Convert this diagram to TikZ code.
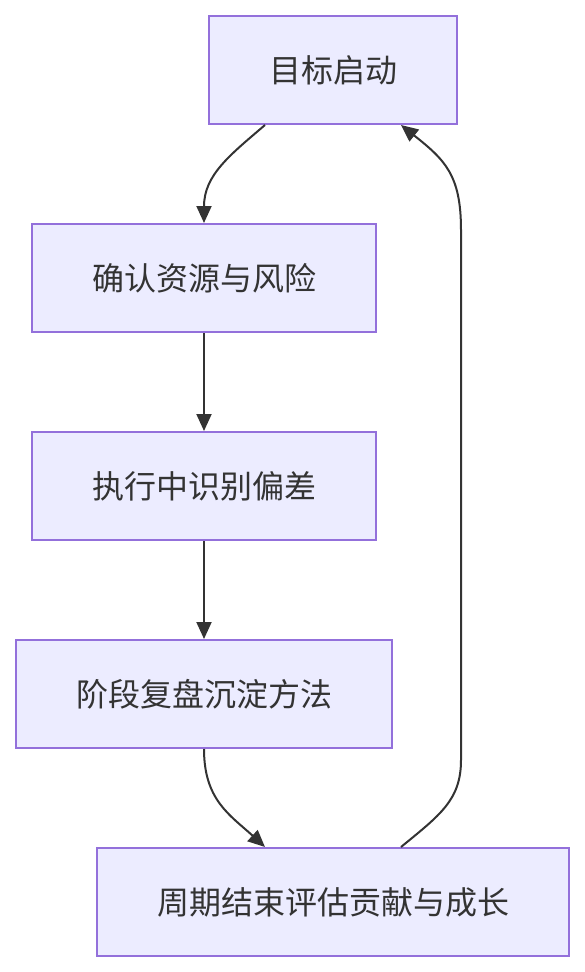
\documentclass[tikz,border=0pt]{standalone}
\usepackage{fontspec}
\setmainfont{Noto Sans CJK SC}
\usetikzlibrary{arrows.meta, positioning, calc}
\definecolor{fillBOX}{HTML}{ECECFF}
\definecolor{bBOX}   {HTML}{9370DB}
\definecolor{txtDARK}{HTML}{333333}

\begin{document}
\begin{tikzpicture}[
    x=1pt, y=-1pt,
    every node/.style={font=\fontsize{32}{38}\selectfont, text=txtDARK},
    wf/.style={
        draw=bBOX, fill=fillBOX, line width=2pt,
        minimum height=108pt, inner sep=0pt,
        align=center
    },
    arrow/.style={-{Triangle[length=17pt,width=15pt]}, line width=2pt, draw=txtDARK}
]

% ── CANVAS ─────────────────────────────────────────────────────
\useasboundingbox (0,0) rectangle (585,972);

% === MAIN COLUMN ===
\node[wf, minimum width=248pt]
    (start) at (333, 70)
    {目标启动};

\node[wf, minimum width=344pt]
    (risk) at (204, 278)
    {确认资源与风险};

\node[wf, minimum width=344pt]
    (deviate) at (204, 486)
    {执行中识别偏差};

\node[wf, minimum width=376pt]
    (review) at (204, 694)
    {阶段复盘沉淀方法};

\node[wf, minimum width=472pt]
    (assess) at (333, 902)
    {周期结束评估贡献与成长};

% ── ARROWS ─────────────────────────────────────────────────────

% Start → Risk
\draw[arrow] ([xshift=-68pt]start.south)
    .. controls (230, 155) and (204, 175) .. (risk.north);

% Straight steps
\draw[arrow] (risk) -- (deviate);
\draw[arrow] (deviate) -- (review);

% Review → Assess
\draw[arrow] (review.south)
    .. controls (204, 800) and (230, 815) .. ([xshift=-68pt]assess.north);

% Assess → Start (loop back)
\coordinate (loopLow)  at (461, 760);
\coordinate (loopHigh) at (461, 230);
\draw[arrow] ([xshift=68pt]assess.north)
    .. controls (440, 815) and (461, 800) .. (loopLow)
    -- (loopHigh)
    .. controls (461, 175) and (445, 160) .. ([xshift=68pt]start.south);

\end{tikzpicture}
\end{document}
